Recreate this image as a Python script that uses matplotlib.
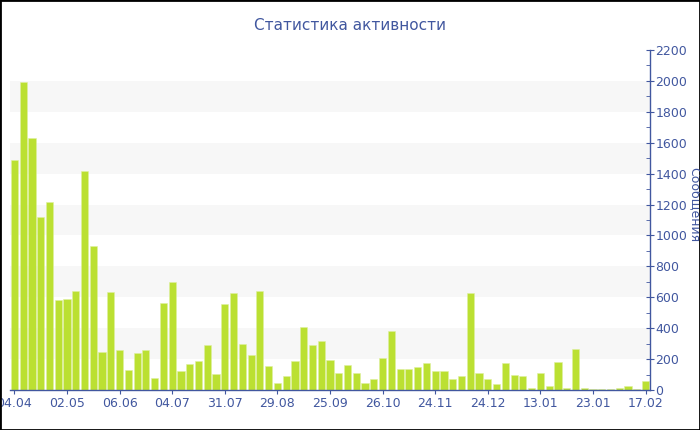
import matplotlib.pyplot as plt
from matplotlib.patches import Rectangle

# messages per period
counts = [1488, 1990, 1629, 1117, 1218, 580, 587, 640, 1417, 934,
          244, 636, 262, 129, 239, 257, 78, 561, 697, 123,
          168, 190, 291, 104, 556, 625, 296, 226, 640, 157,
          45, 93, 190, 405, 289, 317, 192, 110, 162, 108,
          47, 71, 205, 380, 136, 134, 147, 175, 121, 123,
          71, 88, 625, 112, 69, 39, 173, 99, 93, 11,
          112, 24, 178, 13, 267, 11, 6, 6, 6, 11,
          24, 9, 58]
tick_pos = [0, 6, 12, 18, 24, 30, 36, 42, 48, 54, 60, 66, 72]
tick_labels = ["04.04", "02.05", "06.06", "04.07", "31.07", "29.08", "25.09",
               "26.10", "24.11", "24.12", "13.01", "23.01", "17.02"]

blue = "#41579f"
bar_color = "#bbe032"

fig = plt.figure(figsize=(7, 4.3), dpi=100)
fig.patch.set_facecolor("white")
ax = fig.add_axes([10 / 700, 40 / 430, 640 / 700, 340 / 430])

# alternate grid bands
for lo in range(200, 2200, 400):
    ax.axhspan(lo, lo + 200, color="#f7f7f7", zorder=0, lw=0)

ax.bar(range(len(counts)), counts, width=0.82, color=bar_color,
       edgecolor="#dff0a0", linewidth=0.4, zorder=2)

ax.set_xlim(-0.5, len(counts) - 0.5)
ax.set_ylim(0, 2200)
ax.set_xticks(tick_pos)
ax.set_xticklabels(tick_labels)
ax.set_yticks(range(0, 2201, 200))
ax.set_yticks(range(100, 2200, 200), minor=True)

ax.yaxis.tick_right()
for s in ["left", "top"]:
    ax.spines[s].set_visible(False)
for s in ["right", "bottom"]:
    ax.spines[s].set_color(blue)
    ax.spines[s].set_linewidth(1)

ax.tick_params(axis="x", colors=blue, labelsize=9, length=3, direction="out", pad=2)
ax.tick_params(axis="y", which="major", colors=blue, labelsize=9, length=6,
               direction="inout", pad=1)
ax.tick_params(axis="y", which="minor", colors=blue, length=3, direction="in")

fig.text(0.5, 1 - 25 / 430, "Статистика активности", ha="center", va="center",
         fontsize=11, color=blue)
fig.text(694 / 700, 0.5 + 10 / 430, "Сообщения", rotation=270, ha="center",
         va="center", fontsize=9, color=blue)

# outer black frame
fig.patches.append(Rectangle((0, 0), 1, 1, transform=fig.transFigure,
                             fill=False, edgecolor="black", linewidth=2))

fig.savefig("out.png", dpi=100)
